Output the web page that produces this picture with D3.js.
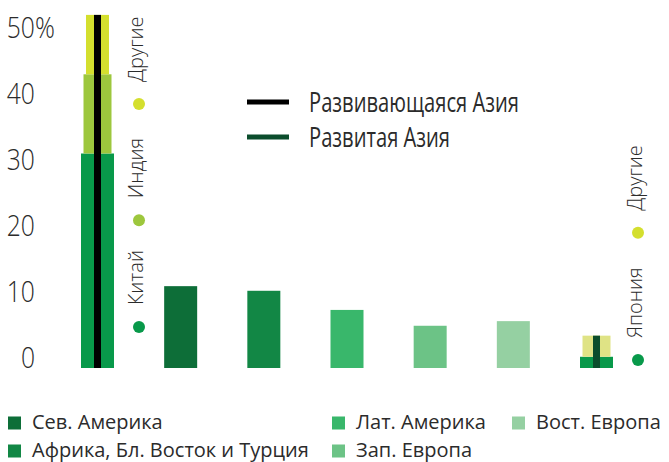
<!DOCTYPE html>
<html>
<head>
<meta charset="utf-8">
<script src="https://cdn.jsdelivr.net/npm/d3@7"></script>
<style>
  body { margin: 0; background: #fff; }
  svg { display: block; }
  text { font-family: "Open Sans", sans-serif; fill: #2b2b2b; }
</style>
</head>
<body>
<svg width="669" height="462"></svg>
<script>
const regions = ['Сев. Америка', 'Африка, Бл. Восток и Турция', 'Лат. Америка', 'Зап. Европа', 'Вост. Европа'];
const regionValues = [12.4, 11.7, 8.8, 6.4, 7.1];
const regionColors = ['#0d6e38', '#128745', '#39b76b', '#6cc386', '#95d0a2'];

const devAsiaParts = ['Китай', 'Индия', 'Другие'];
const devAsiaValues = [32.5, 12, 9];
const devAsiaColors = ['#08994a', '#9dc73d', '#d4df2e'];
const devAsiaDots = ['#08994a', '#9dc73d', '#d4df2e'];
const devAsiaLabelAt = [6.2, 22.4, 40];

const japanParts = ['Япония', 'Другие'];
const japanValues = [1.7, 3.2];
const japanColors = ['#08994a', '#dfe385'];
const japanDots = ['#08994a', '#d4df2e'];
const japanLabelAt = [1.2, 20.5];

const asiaLines = ['Развивающаяся Азия', 'Развитая Азия'];
const asiaLineColors = ['#000000', '#0b4d2c'];

const yTicks = [0, 10, 20, 30, 40, 50];

const svg = d3.select('svg');

// squeeze text horizontally (the original font is a narrow one)
const squeeze = (sel, k) => sel.each(function () {
  const len = this.getComputedTextLength();
  d3.select(this).attr('textLength', len * k).attr('lengthAdjust', 'spacingAndGlyphs');
});

const y = d3.scaleLinear().domain([0, 50]).range([368, 38]);
const x = d3.scaleBand()
  .domain(['devAsia', ...regions, 'japan'])
  .range([81, 613])
  .paddingInner(0.6032)
  .paddingOuter(0);
const bw = x.bandwidth();

// y axis labels, baseline sits on the value, digits right-aligned at 35
const digitW = 29 * 0.572 * 0.85;
svg.append('g')
  .attr('class', 'y-axis')
  .selectAll('text')
  .data(yTicks)
  .enter()
  .append('text')
  .attr('x', d => 35 - String(d).length * digitW)
  .attr('y', d => y(d))
  .attr('font-size', 29)
  .attr('font-weight', 300)
  .text(d => d === 50 ? d + '%' : d)
  .call(squeeze, 0.85);

// region bars
svg.append('g')
  .selectAll('rect')
  .data(regions)
  .enter()
  .append('rect')
  .attr('x', d => x(d))
  .attr('width', bw)
  .attr('y', (d, i) => y(regionValues[i]))
  .attr('height', (d, i) => y(0) - y(regionValues[i]))
  .attr('fill', (d, i) => regionColors[i]);

// stacked Asia columns with a total line through the middle
function stackColumn(key, values, colors, lineColor) {
  const tops = d3.cumsum(values);
  const g = svg.append('g');
  g.selectAll('rect')
    .data(values)
    .enter()
    .append('rect')
    .attr('x', (d, i) => x(key) + i * 2.5)
    .attr('width', (d, i) => bw - i * 5)
    .attr('y', (d, i) => y(tops[i]))
    .attr('height', (d, i) => y(tops[i] - d) - y(tops[i]))
    .attr('fill', (d, i) => colors[i]);
  g.append('rect')
    .attr('x', x(key) + bw / 2 - 3.5)
    .attr('width', 7)
    .attr('y', y(tops[tops.length - 1]))
    .attr('height', y(0) - y(tops[tops.length - 1]))
    .attr('fill', lineColor);
}
stackColumn('devAsia', devAsiaValues, devAsiaColors, asiaLineColors[0]);
stackColumn('japan', japanValues, japanColors, asiaLineColors[1]);

// rotated segment labels with a dot
function partLabels(key, parts, colors, at) {
  const cx = x(key) + bw + 25;
  const g = svg.append('g');
  g.selectAll('circle')
    .data(parts)
    .enter()
    .append('circle')
    .attr('cx', cx)
    .attr('cy', (d, i) => y(at[i]))
    .attr('r', 6)
    .attr('fill', (d, i) => colors[i]);
  g.selectAll('text')
    .data(parts)
    .enter()
    .append('text')
    .attr('transform', (d, i) => `translate(${cx + 4},${y(at[i]) - 22}) rotate(-90)`)
    .attr('font-size', 20)
    .attr('font-weight', 300)
    .text(d => d);
}
partLabels('devAsia', devAsiaParts, devAsiaDots, devAsiaLabelAt);
partLabels('japan', japanParts, japanDots, japanLabelAt);

// line legend
const lineLegend = svg.append('g').attr('transform', 'translate(247,102)');
const li = lineLegend.selectAll('g')
  .data(asiaLines)
  .enter()
  .append('g')
  .attr('transform', (d, i) => `translate(0,${i * 35})`);
li.append('rect')
  .attr('y', -2.5)
  .attr('width', 42)
  .attr('height', 5)
  .attr('fill', (d, i) => asiaLineColors[i]);
li.append('text')
  .attr('x', 62)
  .attr('y', 10)
  .attr('font-family', 'Roboto, sans-serif')
  .attr('font-size', 28)
  .text(d => d)
  .call(squeeze, 0.72);

// bottom legend, filled column by column
const legendCols = [8, 332, 512];
const legendRows = [429, 457];
const legend = svg.append('g')
  .selectAll('g')
  .data(regions)
  .enter()
  .append('g')
  .attr('transform', (d, i) => `translate(${legendCols[Math.floor(i / 2)]},${legendRows[i % 2]})`);
legend.append('rect')
  .attr('y', -12.5)
  .attr('width', 13)
  .attr('height', 13)
  .attr('fill', (d, i) => regionColors[i]);
legend.append('text')
  .attr('x', 24)
  .attr('font-size', 20)
  .text(d => d);
</script>
</body>
</html>
